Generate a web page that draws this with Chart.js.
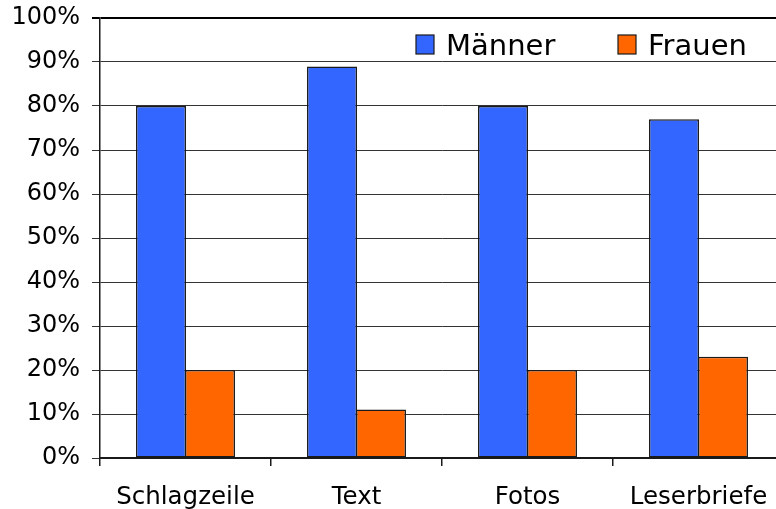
<!DOCTYPE html>
<html>
<head>
<meta charset="utf-8">
<script src="https://cdn.jsdelivr.net/npm/chart.js@4/dist/chart.umd.min.js"></script>
<style>
  html, body { margin: 0; padding: 0; background: #fff; overflow: hidden; }
  #wrap { width: 790px; height: 509px; }
</style>
</head>
<body>
<div id="wrap"><canvas id="chart" width="790" height="509"></canvas></div>
<script>
  'use strict';

  // Data.
  var CATEGORIES = ['Schlagzeile', 'Text', 'Fotos', 'Leserbriefe'];
  var MAENNER = [80, 89, 80, 77];
  var FRAUEN = [20, 11, 20, 23];
  var Y_TICKS = [0, 10, 20, 30, 40, 50, 60, 70, 80, 90, 100];

  var BLUE = '#3366FF';
  var ORANGE = '#FF6600';
  var STROKE = '#1a1a1a';
  var FONT = 'DejaVu Sans, Verdana, sans-serif';

  /**
   * Legend drawn inside the plot, top right, like the original.
   */
  var insideLegend = {
    id: 'insideLegend',
    afterDraw: function (chart) {
      var ctx = chart.ctx;
      var items = chart.data.datasets;
      var xs = [416, 618];
      ctx.save();
      ctx.font = '29px ' + FONT;
      ctx.textBaseline = 'alphabetic';
      ctx.textAlign = 'left';
      items.forEach(function (ds, i) {
        var x = xs[i];
        ctx.fillStyle = ds.backgroundColor;
        ctx.fillRect(x, 35, 18, 19);
        ctx.lineWidth = 1.2;
        ctx.strokeStyle = STROKE;
        ctx.strokeRect(x, 35, 18, 19);
        ctx.fillStyle = '#000';
        ctx.fillText(ds.label, x + 30, 55);
      });
      ctx.restore();
    }
  };

  new Chart(document.getElementById('chart'), {
    type: 'bar',
    data: {
      labels: CATEGORIES,
      datasets: [{
        label: 'Männer',
        data: MAENNER,
        backgroundColor: BLUE,
        borderColor: STROKE,
        borderWidth: 1.5,
        borderSkipped: false,
        categoryPercentage: 0.573,
        barPercentage: 1.02
      }, {
        label: 'Frauen',
        data: FRAUEN,
        backgroundColor: ORANGE,
        borderColor: STROKE,
        borderWidth: 1.5,
        borderSkipped: false,
        categoryPercentage: 0.573,
        barPercentage: 1.02
      }]
    },
    options: {
      responsive: false,
      animation: false,
      layout: { padding: { top: 18, right: 6, bottom: 0, left: 0 } },
      plugins: {
        legend: { display: false },
        tooltip: { enabled: false }
      },
      scales: {
        x: {
          offset: true,
          grid: {
            offset: true,
            drawOnChartArea: false,
            drawTicks: true,
            tickLength: 8,
            color: STROKE,
            lineWidth: 1.5
          },
          border: { color: STROKE, width: 2 },
          ticks: {
            color: '#000',
            font: { family: FONT, size: 24.5 },
            padding: 17,
            maxRotation: 0
          },
          afterFit: function (scale) { scale.height = 51; }
        },
        y: {
          min: 0,
          max: 100,
          afterBuildTicks: function (scale) {
            scale.ticks = Y_TICKS.map(function (v) { return { value: v }; });
          },
          grid: {
            tickLength: 8,
            color: function (c) { return c.tick && c.tick.value === 100 ? '#000' : '#333'; },
            lineWidth: function (c) { return c.tick && c.tick.value === 100 ? 2 : 1; }
          },
          border: { color: STROKE, width: 1.5 },
          ticks: {
            color: '#000',
            // small lineHeight keeps the top label from pushing the plot down
            font: { family: FONT, size: 24, lineHeight: 0.5 },
            padding: 12,
            callback: function (v) { return v + '%'; }
          },
          afterFit: function (scale) { scale.width = 100; }
        }
      }
    },
    plugins: [insideLegend]
  });
</script>
</body>
</html>
